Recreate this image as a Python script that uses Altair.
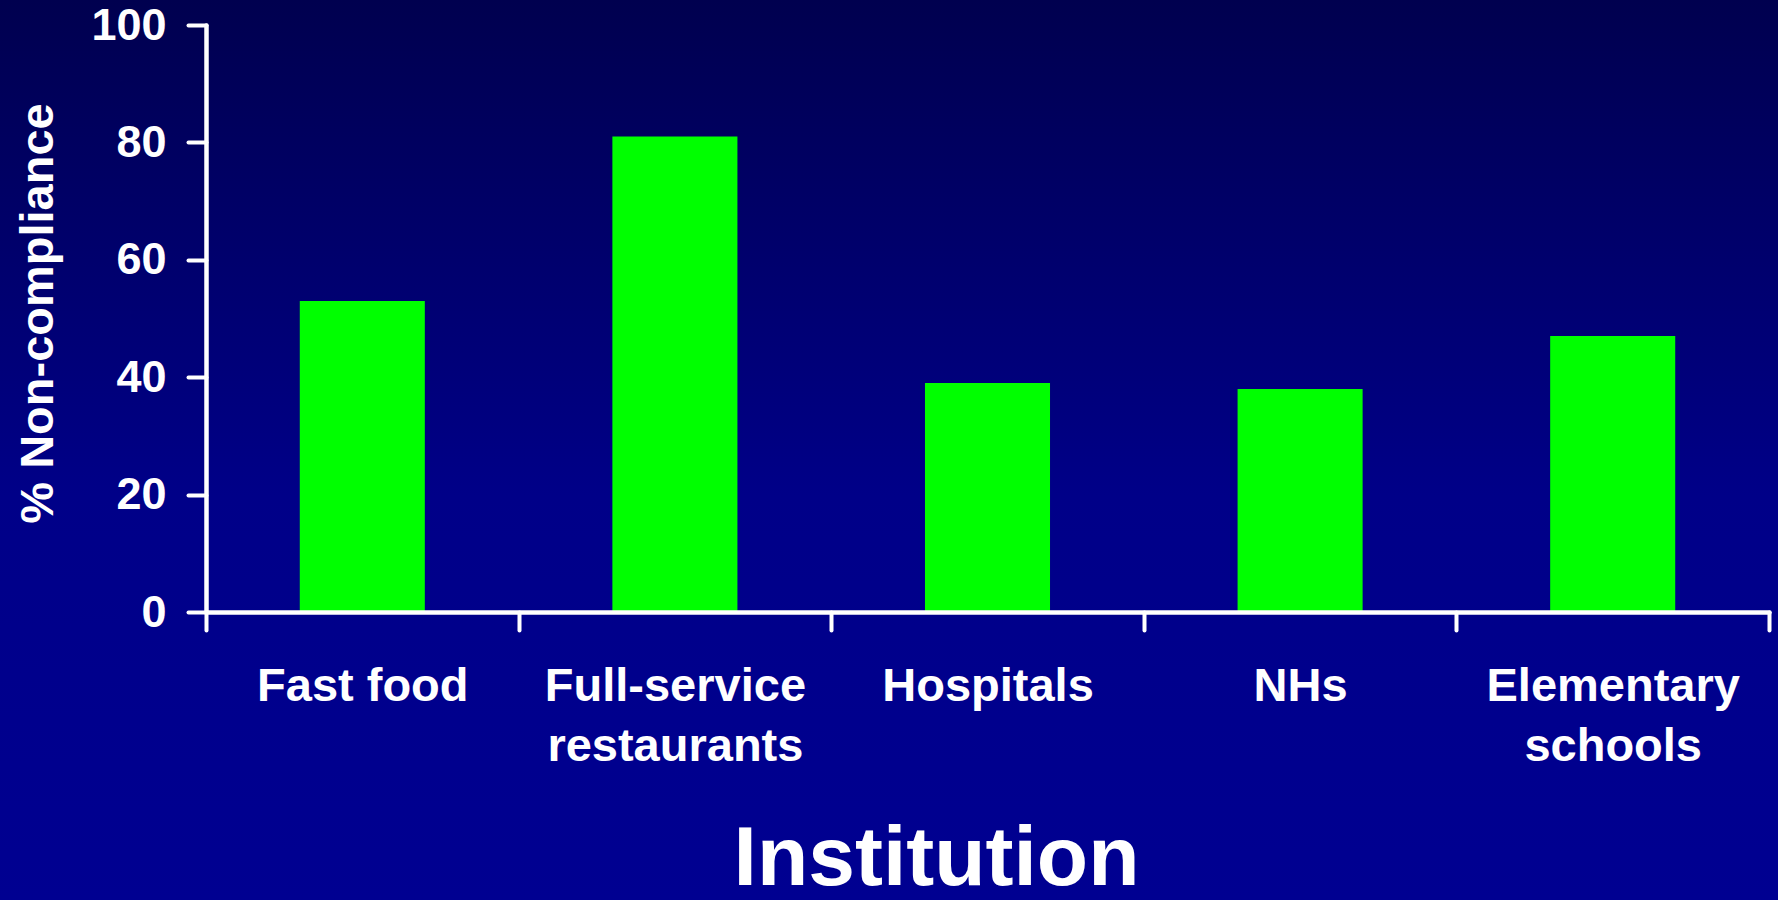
import altair as alt
import pandas as pd

# ---- data ----
categories = ["Fast food", "Full-service\nrestaurants", "Hospitals", "NHs", "Elementary\nschools"]
values = [53, 81, 39, 38, 47]
y_ticks = [0, 20, 40, 60, 80, 100]

df = pd.DataFrame({"institution": categories, "pct": values})

FONT = "Liberation Sans"
W, H = 1563, 587
PAD_L, PAD_T, PAD_R, PAD_B = 206, 25, 9, 288

bg_grad = alt.LinearGradient(
    gradient="linear", x1=0, y1=0, x2=0, y2=1,
    stops=[
        alt.GradientStop(color="#00004F", offset=0),
        alt.GradientStop(color="#000088", offset=0.55),
        alt.GradientStop(color="#000091", offset=1),
    ],
)

bg = alt.Chart(alt.Data(values=[{}])).mark_rect(fill=bg_grad, clip=False).encode(
    x=alt.value(-PAD_L), x2=alt.value(1778 - PAD_L),
    y=alt.value(-PAD_T), y2=alt.value(900 - PAD_T),
)

bars = alt.Chart(df).mark_bar(color="#00FF00", width=alt.RelativeBandSize(0.4)).encode(
    x=alt.X(
        "institution:N", sort=categories,
        scale=alt.Scale(paddingInner=0, paddingOuter=0),
        axis=alt.Axis(
            title="Institution", titleFont=FONT, titleFontSize=84, titleFontWeight="bold",
            titleColor="white", titleX=730, titleY=272, titleBaseline="alphabetic",
            titleAlign="center",
            labelAngle=0, labelFont=FONT, labelFontSize=47, labelFontWeight="bold",
            labelColor="white", labelBaseline="alphabetic", labelPadding=70,
            labelLineHeight=60, labelExpr="split(datum.label, '\\n')",
            labelLimit=0, labelOverlap=False,
            tickBand="extent", tickSize=18, tickWidth=4, tickColor="white", tickCap="round",
            domainColor="white", domainWidth=4.5, domainCap="round", zindex=1,
        ),
    ),
    y=alt.Y(
        "pct:Q",
        scale=alt.Scale(domain=[0, 100], nice=False),
        axis=alt.Axis(
            values=y_ticks, title="% Non-compliance", titleFont=FONT, titleFontSize=47,
            titleFontWeight="bold", titleColor="white", titleAngle=270,
            titleX=-154, titleY=288, titleBaseline="alphabetic", titleAlign="center",
            labelFont=FONT, labelFontSize=45, labelFontWeight="bold", labelColor="white",
            labelPadding=22, tickSize=18, tickWidth=4, tickColor="white", tickCap="round",
            domainColor="white", domainWidth=4.5, domainCap="round", grid=False, zindex=1,
        ),
    ),
)

chart = alt.layer(bg, bars).properties(
    width=W, height=H,
    padding={"left": PAD_L, "top": PAD_T, "right": PAD_R, "bottom": PAD_B},
    autosize=alt.AutoSizeParams(type="none"),
    background="#000070",
).configure_view(stroke=None)

chart.save("out.html", embed_options={"renderer": "svg", "actions": False})
